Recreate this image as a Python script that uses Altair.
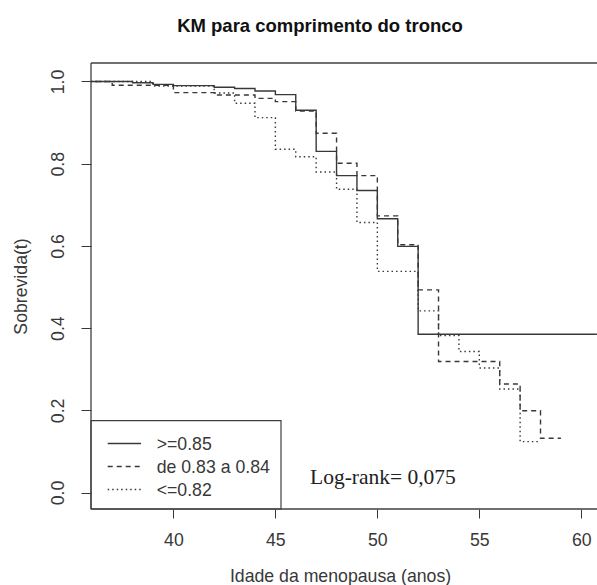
import altair as alt
import pandas as pd

# Kaplan-Meier estimates by group (time in years, survival after each event)
groups = [">=0.85", "de 0.83 a 0.84", "<=0.82"]

t_ge085 = [30, 38, 39, 40, 42, 43, 44, 45, 46, 47, 48, 49, 50, 51, 52, 62]
s_ge085 = [1.0, 0.997, 0.993, 0.990, 0.986, 0.983, 0.977, 0.968, 0.930,
           0.830, 0.771, 0.735, 0.666, 0.599, 0.385, 0.385]

t_mid = [30, 37, 40, 42, 44, 45, 46, 47, 48, 49, 50, 51, 52, 53, 56, 57, 58, 59]
s_mid = [1.0, 0.991, 0.973, 0.967, 0.959, 0.951, 0.928, 0.874, 0.801,
         0.771, 0.673, 0.603, 0.493, 0.319, 0.264, 0.199, 0.132, 0.132]

t_le082 = [30, 39, 42, 43, 44, 45, 46, 47, 48, 49, 50, 52, 53, 54, 55, 56, 57, 58]
s_le082 = [1.0, 0.989, 0.972, 0.947, 0.912, 0.835, 0.817, 0.780, 0.738,
           0.657, 0.538, 0.442, 0.382, 0.343, 0.303, 0.252, 0.124, 0.124]

x_ticks = [40, 45, 50, 55, 60]
y_ticks = [0.0, 0.2, 0.4, 0.6, 0.8, 1.0]
logrank_text = "Log-rank= 0,075"

rows = []
for g, ts, ss in zip(groups, [t_ge085, t_mid, t_le082], [s_ge085, s_mid, s_le082]):
    for t, s in zip(ts, ss):
        rows.append({"grupo": g, "t": t, "s": s})
df = pd.DataFrame(rows)

W, H = 506, 446
INK = "#383838"
FONT = "Liberation Sans"
FS = 17.7
dashes = [[1, 0], [5, 4], [1.5, 3]]

x_scale = alt.Scale(domain=[35.96, 60.77], nice=False, zero=False)
y_scale = alt.Scale(domain=[-0.04, 1.045], nice=False, zero=False)

curves = alt.Chart(df).mark_line(
    interpolate="step-after", clip=True, strokeWidth=1.4, color=INK
).encode(
    x=alt.X("t:Q", scale=x_scale,
            axis=alt.Axis(values=x_ticks, title="Idade da menopausa (anos)",
                          grid=False, domain=False, tickSize=9, tickColor=INK,
                          tickWidth=1, labelFontSize=FS, labelColor=INK,
                          labelBaseline="alphabetic", labelPadding=27.4,
                          labelFlush=False,
                          titleX=249, titleY=72, titleBaseline="alphabetic",
                          titleFontSize=FS, titleFontWeight="normal",
                          titleColor=INK)),
    y=alt.Y("s:Q", scale=y_scale,
            axis=alt.Axis(values=y_ticks, format=".1f", title="Sobrevida(t)",
                          grid=False, domain=False, tickSize=10, tickColor=INK,
                          tickWidth=1, labelFontSize=FS, labelColor=INK,
                          labelAngle=270, labelAlign="center",
                          labelBaseline="alphabetic", labelPadding=18,
                          labelFlush=False,
                          titleAngle=270, titleX=-64.5, titleY=223,
                          titleAlign="center", titleBaseline="alphabetic",
                          titleFontSize=FS, titleFontWeight="normal",
                          titleColor=INK)),
    strokeDash=alt.StrokeDash("grupo:N",
                              scale=alt.Scale(domain=groups, range=dashes),
                              legend=None),
    detail="grupo:N",
)

# plot frame (top, left, bottom)
frame_style = dict(color="#404040", strokeWidth=1.3)
top = alt.Chart().mark_rule(**frame_style).encode(
    x=alt.value(0), x2=alt.value(W), y=alt.value(0))
left = alt.Chart().mark_rule(**frame_style).encode(
    x=alt.value(0), y=alt.value(0), y2=alt.value(H))
bottom = alt.Chart().mark_rule(**frame_style).encode(
    x=alt.value(0), x2=alt.value(W), y=alt.value(H))

# legend box in the lower-left corner
legend_box = alt.Chart().mark_rect(filled=False, stroke="#404040", strokeWidth=1.2).encode(
    x=alt.value(0), x2=alt.value(190), y=alt.value(357.7), y2=alt.value(H))

legend_layers = []
row_y = [380.5, 403.5, 426.5]
for g, d, ry in zip(groups, dashes, row_y):
    legend_layers.append(
        alt.Chart().mark_rule(color=INK, strokeWidth=1.3, strokeDash=d).encode(
            x=alt.value(16.7), x2=alt.value(50), y=alt.value(ry)))
    legend_layers.append(
        alt.Chart().mark_text(align="left", baseline="alphabetic", font=FONT,
                              fontSize=FS, color=INK).encode(
            x=alt.value(65.7), y=alt.value(ry + 6.5), text=alt.value(g)))

logrank = alt.Chart().mark_text(
    align="left", baseline="alphabetic", font="Liberation Serif",
    fontSize=21.5, color="#222222"
).encode(x=alt.value(219), y=alt.value(420.5), text=alt.value(logrank_text))

chart = alt.layer(
    curves, top, left, bottom, legend_box, *legend_layers, logrank
).properties(
    width=W, height=H,
    title=alt.TitleParams("KM para comprimento do tronco", anchor="middle",
                          frame="group", dx=-24, offset=12,
                          baseline="alphabetic", font=FONT, fontSize=18.5,
                          fontWeight="bold", color="#111111"),
    autosize=alt.AutoSizeParams(type="none"),
    padding={"left": 91, "top": 63, "right": 0, "bottom": 76},
    background="white",
).configure_view(stroke=None).configure_axis(
    labelFont=FONT, titleFont=FONT
)

chart.save("out.html", embed_options={"renderer": "svg", "actions": False})
